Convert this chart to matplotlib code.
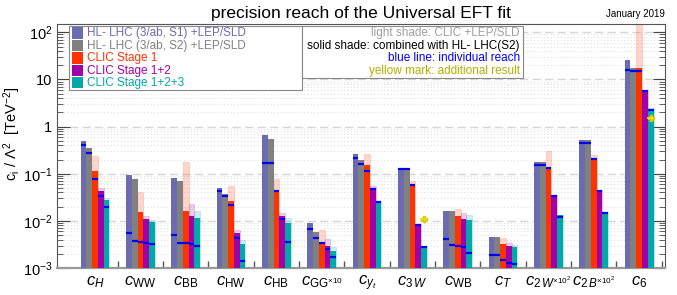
import numpy as np
import matplotlib
matplotlib.use("Agg")
import matplotlib.pyplot as plt
from matplotlib.patches import Rectangle
from matplotlib.ticker import FixedLocator, FuncFormatter, LogLocator, NullFormatter

plt.rcParams['font.family'] = ['Liberation Sans', 'DejaVu Sans']
plt.rcParams['mathtext.fontset'] = 'custom'
plt.rcParams['mathtext.rm'] = 'Liberation Sans'
plt.rcParams['mathtext.it'] = 'Liberation Sans:italic'
plt.rcParams['mathtext.bf'] = 'Liberation Sans:bold'

# operators (x tick labels)
labels = [r"$c_H$", r"$c_{\mathrm{WW}}$", r"$c_{\mathrm{BB}}$", r"$c_{\mathrm{HW}}$",
          r"$c_{\mathrm{HB}}$", r"$c_{\mathrm{GG}{}^{\times 10}}$", r"$c_{y_t}$",
          r"$c_{3\,W}$", r"$c_{\mathrm{WB}}$", r"$c_T$", r"$c_{2\,W{}^{\times 10^2}}$",
          r"$c_{2\,B{}^{\times 10^2}}$", r"$c_6$"]

# HL-LHC S1 / S2 (+LEP/SLD): global and individual reach
s1 = [0.49, 0.095, 0.083, 0.049, 0.66, 0.0088, 0.267, 0.131, 0.0163, 0.0046, 0.174, 0.51, 25.8]
s1_ind = [0.41, 0.0054, 0.0049, 0.042, 0.166, 0.0068, 0.214, 0.128, 0.0041, 0.0019, 0.150, 0.45, 15.8]
s2 = [0.36, 0.077, 0.070, 0.037, 0.556, 0.0057, 0.199, 0.131, 0.0163, 0.0046, 0.174, 0.51, 17.7]
s2_ind = [0.28, 0.00375, 0.00334, 0.034, 0.166, 0.0043, 0.163, 0.128, 0.0031, 0.0019, 0.150, 0.45, 15.3]

# CLIC stages: light = CLIC+LEP/SLD, solid = combined with HL-LHC(S2), ind = individual
clic1_light = [0.24, 0.041, 0.174, 0.056, 0.078, 0.0065, 0.257, 0.070, 0.018, 0.0044, 0.298, 0.245, 300.0]
clic1 = [0.117, 0.0158, 0.0166, 0.027, 0.046, 0.0035, 0.155, 0.059, 0.0126, 0.0033, 0.131, 0.209, 17.1]
clic1_ind = [0.077, 0.00357, 0.00334, 0.022, 0.043, 0.0034, 0.116, 0.058, 0.0030, 0.0015, 0.130, 0.205, 15.0]

clic12_light = [0.050, 0.0128, 0.023, 0.0063, 0.0148, 0.0042, 0.054, 0.0086, 0.0148, 0.0034, 0.036, 0.045, 6.1]
clic12 = [0.043, 0.0112, 0.013, 0.0056, 0.013, 0.0029, 0.049, 0.0083, 0.0112, 0.0030, 0.035, 0.044, 5.9]
clic12_ind = [0.033, 0.00346, 0.0033, 0.0044, 0.0107, 0.0025, 0.048, 0.0082, 0.0028, 0.0013, 0.034, 0.043, 5.6]

clic123_light = [0.031, 0.0103, 0.016, 0.0040, 0.0117, 0.0028, 0.0266, 0.0029, 0.0136, 0.0031, 0.0135, 0.0155, 2.45]
clic123 = [0.028, 0.0093, 0.0116, 0.0032, 0.0092, 0.0023, 0.0253, 0.0028, 0.0105, 0.00275, 0.0131, 0.0150, 2.4]
clic123_ind = [0.0195, 0.0032, 0.0030, 0.00143, 0.0035, 0.00173, 0.0253, 0.0028, 0.0021, 0.00122, 0.0122, 0.0147, 2.3]

# additional results (yellow marks), on the CLIC 1+2+3 bar
extra_idx = [7, 12]
extra_val = [0.0107, 1.52]

col_s1 = '#6b6bb0'
col_s2 = '#808080'
col_c1 = '#ff3300'
col_c12 = '#a000a8'
col_c123 = '#00a8a8'

fig = plt.figure(figsize=(6.77, 2.95), dpi=100)
ax = fig.add_axes([0.0842, 0.0915, 0.898, 0.827])
ax.set_yscale('log')

x = np.arange(len(labels))
w = 0.127
base = 1e-4

def bars(vals, off, color, **kw):
    v = np.array(vals)
    ax.bar(x + off * w, v - base, bottom=base, width=w, color=color, linewidth=0, zorder=3, **kw)

def ind(vals, off):
    ax.hlines(vals, x + off * w - w / 2, x + off * w + w / 2, colors='#0000ff', lw=1.6, zorder=5)

bars(s1, -2, col_s1)
bars(s2, -1, col_s2)
for vals, off, c in [(clic1_light, 0, col_c1), (clic12_light, 1, col_c12), (clic123_light, 2, col_c123)]:
    ax.bar(x + off * w, np.array(vals) - base, bottom=base, width=w, color=c, alpha=0.2,
           edgecolor=c, linewidth=0.6, zorder=2)
bars(clic1, 0, col_c1)
bars(clic12, 1, col_c12)
bars(clic123, 2, col_c123)
ind(s1_ind, -2)
ind(s2_ind, -1)
ind(clic1_ind, 0)
ind(clic12_ind, 1)
ind(clic123_ind, 2)

ex = np.array(extra_idx) + 2 * w
ax.plot(ex, extra_val, ls='none', marker='P', ms=4, color='#f0e000', mec='#d8c800', zorder=6)
ax.hlines(extra_val, ex - w * 0.6, ex + w * 0.6, colors='#f0e000', lw=1.2, zorder=6)

ax.set_xlim(-0.84, 12.57)
ax.set_ylim(1e-3, 150)

# grid
ax.set_axisbelow(True)
ax.yaxis.grid(True, which='major', ls=(0, (6, 3)), color='#d6d6d6', lw=1.0)
ax.yaxis.grid(True, which='minor', ls=(0, (1, 3)), color='#cfcfcf', lw=0.6)

# y ticks
ax.yaxis.set_major_locator(FixedLocator([1e-3, 1e-2, 1e-1, 1, 10, 100]))
ax.yaxis.set_minor_locator(LogLocator(base=10, subs=np.arange(2, 10)))
ax.yaxis.set_minor_formatter(NullFormatter())
ylab = {1e-3: r"$10^{-3}$", 1e-2: r"$10^{-2}$", 1e-1: r"$10^{-1}$", 1: "1", 10: "10", 100: r"$10^{2}$"}
ax.yaxis.set_major_formatter(FuncFormatter(lambda v, p: ylab.get(round(v, 6), "")))
ax.tick_params(axis='y', which='major', direction='in', length=9, width=0.8, labelsize=10.5,
               right=True, color='#444444')
ax.tick_params(axis='y', which='minor', direction='in', length=4, width=0.6, right=True, color='#444444')

# x ticks: separators (major) and bar centres (minor)
ax.set_xticks(np.arange(len(labels)) + 0.5)
ax.set_xticklabels([])
ax.xaxis.set_minor_locator(FixedLocator((x[:, None] + np.arange(-2, 3)[None, :] * w).ravel()))
ax.tick_params(axis='x', which='major', direction='in', length=5, width=1.0, color='#555555')
ax.tick_params(axis='x', which='minor', direction='in', length=3, width=0.8, color='#333333')
for i, lab in enumerate(labels):
    ax.text(i, -0.072, lab, transform=ax.get_xaxis_transform(), ha='center', va='baseline', fontsize=12)

for s in ax.spines.values():
    s.set_color('#555555')
    s.set_linewidth(0.8)
ax.spines['bottom'].set_linewidth(1.6)
ax.spines['bottom'].set_color('#999999')

ax.set_ylabel(r"c$_{\rm i}$ / $\Lambda^2$  [TeV$^{-2}$]", fontsize=10.5)
ax.yaxis.set_label_coords(-0.056, 0.55)
fig.text(0.533, 0.955, "precision reach of the Universal EFT fit", ha='center', va='center', fontsize=12.5)
fig.text(0.982, 0.952, "January 2019", ha='right', va='center', fontsize=7)

# legend box 1
ax.add_patch(Rectangle((0.0197, 0.7295), 0.3833, 0.2625, transform=ax.transAxes, facecolor='white',
                       edgecolor='#888888', lw=0.8, zorder=10))
leg = [("HL- LHC (3/ab, S1) +LEP/SLD", col_s1, '#6b6bb0'),
       ("HL- LHC (3/ab, S2) +LEP/SLD", col_s2, '#808080'),
       ("CLIC Stage 1", col_c1, col_c1),
       ("CLIC Stage 1+2", col_c12, col_c12),
       ("CLIC Stage 1+2+3", col_c123, col_c123)]
rows = [33, 45.5, 58, 70.5, 82.5]
for (txt, c, tc), py in zip(leg, rows):
    yf = (268 - py) / 244
    ax.add_patch(Rectangle((0.0247, yf - 0.023), 0.018, 0.046, transform=ax.transAxes,
                           facecolor=c, edgecolor='none', zorder=11))
    ax.text(0.049, yf, txt, transform=ax.transAxes, ha='left', va='center', fontsize=8.5,
            color=tc, zorder=11)

# legend box 2
ax.add_patch(Rectangle((0.403, 0.779), 0.363, 0.213, transform=ax.transAxes, facecolor='white',
                       edgecolor='#888888', lw=0.8, zorder=10))
notes = [("light shade: CLIC +LEP/SLD", '#a0a0a0'),
         ("solid shade: combined with HL- LHC(S2)", 'black'),
         ("blue line: individual reach", '#0000ff'),
         ("yellow mark: additional result", '#b0b000')]
for (txt, c), py in zip(notes, rows[:4]):
    ax.text(0.761, (268 - py) / 244, txt, transform=ax.transAxes, ha='right', va='center',
            fontsize=8.5, color=c, zorder=11)

fig.savefig("out.png", dpi=100)
